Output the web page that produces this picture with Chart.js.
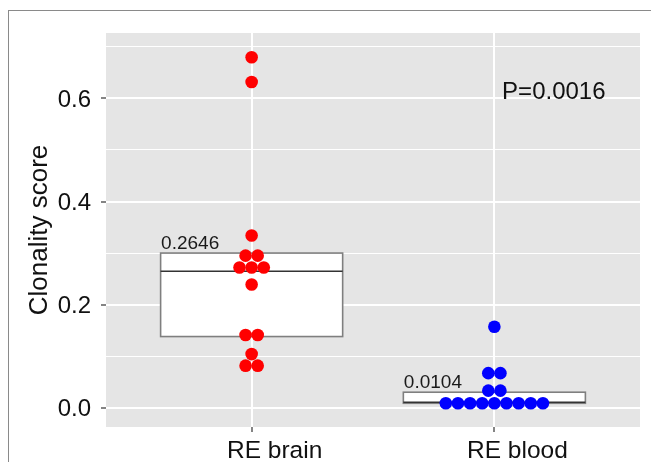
<!DOCTYPE html>
<html>
<head>
<meta charset="utf-8">
<script src="https://cdn.jsdelivr.net/npm/chart.js@4"></script>
<style>
  html, body { margin: 0; padding: 0; background: #ffffff; overflow: hidden; }
  #wrap { position: relative; width: 651px; height: 462px; }
  #frame { position: absolute; left: 8px; top: 10px; width: 700px; height: 520px; border: 1.5px solid #8a8a8a; box-sizing: border-box; }
  canvas { position: absolute; left: 0; top: 0; }
</style>
</head>
<body>
<div id="wrap">
  <div id="frame"></div>
  <canvas id="c" width="651" height="462"></canvas>
</div>
<script>
// ---- data ----
const categories = ['RE brain', 'RE blood'];
const brainValues = [0.680, 0.632, 0.334, 0.295, 0.295, 0.272, 0.272, 0.272, 0.239, 0.141, 0.141, 0.104, 0.0815, 0.0815];
const bloodValues = [0.157, 0.067, 0.067, 0.033, 0.033, 0.0085, 0.0085, 0.0085, 0.0085, 0.0085, 0.0085, 0.0085, 0.0085, 0.0085];
const boxQ1 = [0.138, 0.0085];
const boxMedian = [0.2646, 0.0104];
const boxQ3 = [0.300, 0.030];
const boxLabels = ['0.2646', '0.0104'];
const yTickValues = [0, 0.1, 0.2, 0.3, 0.4, 0.5, 0.6, 0.7];
const yMajorTicks = [0, 0.2, 0.4, 0.6];
const pValueText = 'P=0.0016';

const FONT = "'Liberation Sans', Arial, Helvetica, sans-serif";
const DOT_SPACING = 0.05;   // stacking step, in category units
const BOX_HALF = 0.375;     // half box width, in category units

// centre-stack equal values (dotplot style)
function stack(values, center) {
  const groups = new Map();
  values.forEach(v => { groups.set(v, (groups.get(v) || 0) + 1); });
  const pts = [];
  groups.forEach((n, v) => {
    for (let i = 0; i < n; i++) pts.push({ x: center + (i - (n - 1) / 2) * DOT_SPACING, y: v });
  });
  return pts;
}

const isMajor = v => yMajorTicks.some(m => Math.abs(m - v) < 1e-9);

const panelPlugin = {
  id: 'panel',
  beforeDraw(chart) {
    const { ctx, chartArea: a } = chart;
    ctx.save();
    ctx.fillStyle = '#e5e5e5';
    ctx.fillRect(a.left, a.top, a.right - a.left, a.bottom - a.top);
    ctx.restore();
  },
  beforeDatasetsDraw(chart) {
    const { ctx, scales: { x, y } } = chart;
    ctx.save();
    categories.forEach((c, i) => {
      const cx = i + 1;
      const l = x.getPixelForValue(cx - BOX_HALF), r = x.getPixelForValue(cx + BOX_HALF);
      const t = y.getPixelForValue(boxQ3[i]), b = y.getPixelForValue(boxQ1[i]);
      const m = y.getPixelForValue(boxMedian[i]);
      ctx.fillStyle = '#ffffff';
      ctx.fillRect(l, t, r - l, b - t);
      ctx.strokeStyle = '#7f7f7f';
      ctx.lineWidth = 1.6;
      ctx.strokeRect(l, t, r - l, b - t);
      ctx.strokeStyle = '#333333';
      ctx.lineWidth = 1.6;
      ctx.beginPath(); ctx.moveTo(l, m); ctx.lineTo(r, m); ctx.stroke();
      ctx.fillStyle = '#1a1a1a';
      ctx.font = '19px ' + FONT;
      ctx.textAlign = 'left';
      ctx.textBaseline = 'alphabetic';
      ctx.fillText(boxLabels[i], l + 0.5, t - 4);
    });
    ctx.restore();
  },
  afterDatasetsDraw(chart) {
    const { ctx, scales: { x, y } } = chart;
    ctx.save();
    ctx.fillStyle = '#111111';
    ctx.font = '24px ' + FONT;
    ctx.textAlign = 'center';
    ctx.textBaseline = 'alphabetic';
    ctx.fillText(pValueText, x.getPixelForValue(2.245), y.getPixelForValue(0.598));
    ctx.restore();
  }
};

new Chart(document.getElementById('c'), {
  type: 'scatter',
  data: {
    datasets: [
      { label: categories[0], data: stack(brainValues, 1), backgroundColor: '#ff0000', borderWidth: 0, pointRadius: 6.3, pointHoverRadius: 6.3 },
      { label: categories[1], data: stack(bloodValues, 2), backgroundColor: '#0000ff', borderWidth: 0, pointRadius: 6.3, pointHoverRadius: 6.3 }
    ]
  },
  options: {
    responsive: false,
    animation: false,
    events: [],
    layout: { padding: { top: 33, right: 11, left: 0, bottom: 0 } },
    plugins: { legend: { display: false }, tooltip: { enabled: false } },
    scales: {
      x: {
        type: 'linear', min: 0.4, max: 2.6,
        afterBuildTicks: s => { s.ticks = categories.map((c, i) => ({ value: i + 1 })); },
        afterFit: s => { s.height = 35; },
        border: { display: false },
        grid: { color: '#ffffff', lineWidth: 2, tickColor: '#333333', tickLength: 5, tickWidth: 1.2 },
        ticks: { padding: 5, labelOffset: 23, color: '#111111', font: { family: FONT, size: 24.5 }, maxRotation: 0, autoSkip: false,
                 callback: v => categories[Math.round(v) - 1] }
      },
      y: {
        type: 'linear', min: -0.0375, max: 0.727,
        afterBuildTicks: s => { s.ticks = yTickValues.map(v => ({ value: v })); },
        afterFit: s => { s.width = 106; },
        border: { display: false },
        grid: {
          color: '#ffffff',
          lineWidth: ctx => isMajor(ctx.tick.value) ? 2 : 1,
          tickColor: ctx => isMajor(ctx.tick.value) ? '#333333' : 'rgba(0,0,0,0)',
          tickLength: 5, tickWidth: 1.2
        },
        ticks: { padding: 10, labelOffset: 2, color: '#111111', font: { family: FONT, size: 24 }, autoSkip: false,
                 callback: v => isMajor(v) ? v.toFixed(1) : '' },
        title: { display: true, text: 'Clonality score', color: '#111111', font: { family: FONT, size: 26 }, padding: { top: 24, bottom: 0 } }
      }
    }
  },
  plugins: [panelPlugin]
});
</script>
</body>
</html>
